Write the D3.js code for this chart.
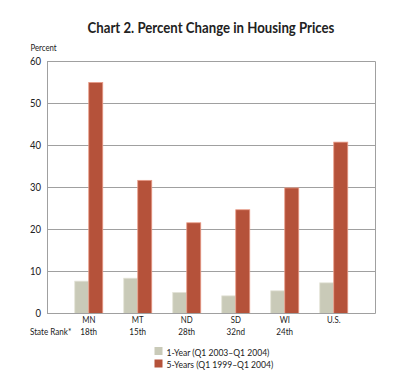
<!DOCTYPE html>
<html><head><meta charset="utf-8">
<script src="https://cdn.jsdelivr.net/npm/d3@7"></script>
<style>body{margin:0;background:#fff}svg{display:block}text{font-family:Lato,sans-serif;fill:#222}</style>
</head><body><svg id="c" width="415" height="378"></svg>
<script>
const categories = ["MN","MT","ND","SD","WI","U.S."];
const ranks = ["18th","15th","28th","32nd","24th",""];
const oneYear = [7.7, 8.4, 5.0, 4.2, 5.4, 7.3];
const fiveYear = [55.0, 31.7, 21.6, 24.7, 29.9, 40.8];
const yTicks = [0,10,20,30,40,50,60];
const seriesNames = ["1-Year (Q1 2003\u2013Q1 2004)","5-Years (Q1 1999\u2013Q1 2004)"];
const colors = ["#c9cab8","#b5523a"];

const svg = d3.select("#c");
const L=47, R=375.5, T=61.5, B=313.5;
const x = d3.scalePoint().domain(categories).range([L,R]).padding(0.852);
const y = d3.scaleLinear().domain([0,60]).range([B,T]);
const bw = 14;

svg.append("text").attr("data-c",0.91).attr("x",211).attr("y",33.3).attr("text-anchor","middle")
  .style("font-size","14.5px").style("font-weight","bold").text("Chart 2. Percent Change in Housing Prices");
svg.append("text").attr("data-c",0.82).attr("x",30.5).attr("y",50.5).style("font-size","9.5px").text("Percent");

// grid
svg.append("g").selectAll("line").data(yTicks.filter(d=>d>0)).join("line")
  .attr("x1",L).attr("x2",R).attr("y1",d=>y(d)).attr("y2",d=>y(d))
  .attr("stroke","#a0a0a0").attr("stroke-width",1);
svg.append("line").attr("x1",R).attr("x2",R).attr("y1",T).attr("y2",B).attr("stroke","#a0a0a0");

// axis
const ya = svg.append("g").attr("transform",`translate(${L},0)`)
  .call(d3.axisLeft(y).tickValues(yTicks).tickSize(0).tickPadding(6));
ya.select(".domain").attr("stroke","#a0a0a0");
ya.selectAll("text").attr("data-c",0.88).style("font-size","10.8px").style("font-family",null).attr("fill","#222");

// bars
const g = svg.append("g");
g.selectAll("rect.a").data(categories).join("rect").attr("class","a")
  .attr("x",d=>x(d)-bw).attr("width",bw)
  .attr("y",(d,i)=>y(oneYear[i])).attr("height",(d,i)=>B-y(oneYear[i]))
  .attr("fill",colors[0]).attr("stroke","#e2e2d6").attr("stroke-width",0.8);
g.selectAll("rect.b").data(categories).join("rect").attr("class","b")
  .attr("x",d=>x(d)).attr("width",bw)
  .attr("y",(d,i)=>y(fiveYear[i])).attr("height",(d,i)=>B-y(fiveYear[i]))
  .attr("fill",colors[1]).attr("stroke","#e89a86").attr("stroke-width",0.8);

// baseline
svg.append("line").attr("x1",L).attr("x2",R).attr("y1",B).attr("y2",B).attr("stroke","#a0a0a0");

// category labels
svg.append("g").selectAll("text").data(categories).join("text").attr("data-c",0.82)
  .attr("x",d=>x(d)).attr("y",323.3).attr("text-anchor","middle").style("font-size","9.5px").text(d=>d);
svg.append("g").selectAll("text").data(categories).join("text").attr("data-c",0.85)
  .attr("x",d=>x(d)).attr("y",334.8).attr("text-anchor","middle").style("font-size","9.5px").text((d,i)=>ranks[i]);
svg.append("text").attr("data-c",0.85).attr("x",30).attr("y",334.8).style("font-size","9.5px").text("State Rank*");

// legend
const lg = svg.append("g");
seriesNames.forEach((s,i)=>{
  lg.append("rect").attr("x",154.5).attr("y",347+i*12.5).attr("width",8).attr("height",8).attr("fill",colors[i]);
  lg.append("text").attr("data-c",0.9).attr("x",166.5).attr("y",355.5+i*12.5).style("font-size","9.5px").text(s);
});

// emulate a condensed face
svg.selectAll("text").each(function(){
  const w = this.getComputedTextLength();
  const c = +this.getAttribute("data-c") || 0.85;
  if (w>0){ this.setAttribute("textLength", w*c); this.setAttribute("lengthAdjust","spacingAndGlyphs"); }
});
</script></body></html>
